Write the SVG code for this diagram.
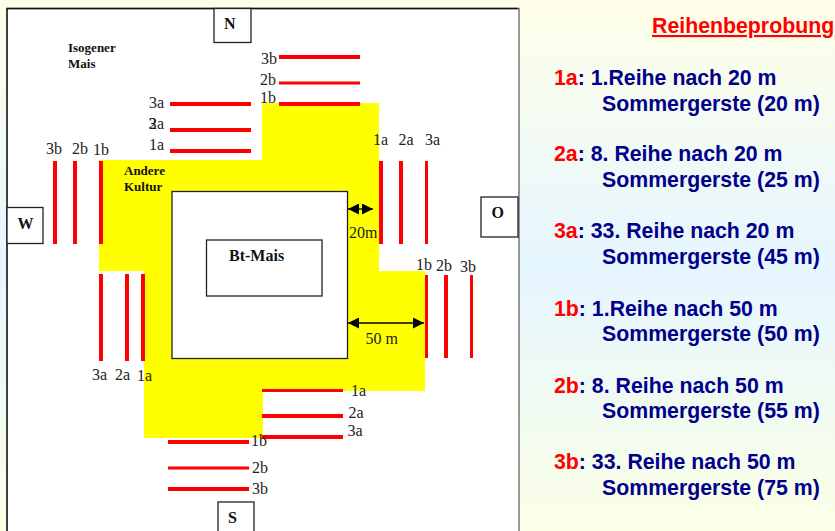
<svg xmlns="http://www.w3.org/2000/svg" width="835" height="531" viewBox="0 0 835 531">
<style>
.s{font-family:"Liberation Serif","Times New Roman",serif;font-size:16px;fill:#222}
.b{font-family:"Liberation Serif","Times New Roman",serif;font-weight:bold;fill:#111}
.a{font-family:"Liberation Sans",Arial,sans-serif;font-weight:bold;font-size:21.300px;fill:#00008b}
.r{fill:#f00}
.box{fill:#fff;stroke:#222;stroke-width:1.300}
.red{stroke:#f00;fill:none}
.dim{stroke:#000;stroke-width:1.300;fill:none;marker-start:url(#ah);marker-end:url(#ah)}
</style>
<defs>
<linearGradient id="bg" x1="0" y1="0" x2="0" y2="1">
<stop offset="0" stop-color="#ffffe8"/><stop offset="0.5" stop-color="#e6f6ff"/><stop offset="1" stop-color="#fbffe6"/>
</linearGradient>
<marker id="ah" viewBox="0 0 11 11" refX="11" refY="5.500" markerWidth="11" markerHeight="11" markerUnits="userSpaceOnUse" orient="auto-start-reverse"><path d="M0 0L11 5.500L0 11z" fill="#000"/></marker>
</defs>
<rect id="background" width="835" height="531" fill="url(#bg)"/>
<g id="map">
<path d="M7 534V8.500H519V534" fill="#fff" stroke="#777" stroke-width="1.500"/>
<path d="M7 534V8.500H518" fill="none" stroke="#111" stroke-width="1.300"/>
<path id="andere-kultur" d="M99 160H262V103H379V271H425V391H263V438H144V271H99Z" fill="#ff0"/>
</g>
<g id="isogener-mais"><text class="b" font-size="13" x="68" y="52">Isogener</text><text class="b" font-size="13" x="68" y="68">Mais</text></g>
<g id="andere-kultur-label"><text class="b" font-size="13" x="124" y="175">Andere</text><text class="b" font-size="13" x="124" y="191">Kultur</text></g>
<g id="field-outer"><rect x="172" y="191.500" width="175.500" height="167" class="box"/></g>
<g id="bt-mais"><rect x="206.500" y="240" width="115.500" height="56" class="box"/><text class="b" font-size="16" x="229" y="261">Bt-Mais</text></g>
<g id="north"><rect x="214" y="8.500" width="37" height="34" class="box"/><text class="b" font-size="16" x="224" y="29">N</text></g>
<g id="west"><rect x="7" y="207.500" width="36" height="36" class="box"/><text class="b" font-size="16" x="17.500" y="229">W</text></g>
<g id="east"><rect x="481" y="197" width="37" height="40" class="box"/><text class="b" font-size="16" x="491.500" y="218">O</text></g>
<g id="south"><rect x="218" y="502" width="36" height="32" class="box"/><text class="b" font-size="16" x="228" y="523">S</text></g>
<g id="connectors">
<path class="red" stroke-width="4" d="M170 104H251M170 130H251M170 151H251M279 57H360M279 104H360M168 442H249M168 489H249M262 437H343M262 416H343"/>
<path class="red" stroke-width="3" d="M279 83H360M168 468H249M262 390.500H343"/>
<path class="red" stroke-width="4" d="M55 161V244M75 161V244M101 161V244M101 274V361M127 274V361M143 274V361M381 161V244M401 161V244M446 275V358"/>
<path class="red" stroke-width="3" d="M426.500 161V244M426.500 275V358M471.500 275V358"/>
<path class="dim" d="M348 209H373"/>
<path class="dim" d="M348 323H424"/>
</g>
<g id="row-labels">
<text class="s" x="149" y="108">3a</text><text class="s" x="148.500" y="129">3</text><text class="s" x="149" y="129">2a</text><text class="s" x="149" y="150">1a</text>
<text class="s" x="261" y="64">3b</text><text class="s" x="260" y="85">2b</text><text class="s" x="260" y="103">1b</text>
<text class="s" x="46" y="154">3b</text><text class="s" x="72" y="154">2b</text><text class="s" x="93" y="155">1b</text>
<text class="s" x="373" y="145">1a</text><text class="s" x="398.500" y="145">2a</text><text class="s" x="425" y="145">3a</text>
<text class="s" x="416" y="270">1b</text><text class="s" x="436" y="271">2b</text><text class="s" x="460" y="272">3b</text>
<text class="s" x="92" y="380">3a</text><text class="s" x="115" y="380">2a</text><text class="s" x="137" y="381">1a</text>
<text class="s" x="351" y="396">1a</text><text class="s" x="348.500" y="418">2a</text><text class="s" x="347.500" y="436">3a</text>
<text class="s" x="251" y="446">1b</text><text class="s" x="252" y="473">2b</text><text class="s" x="252" y="494">3b</text>
<text class="s" x="349" y="238">20m</text><text class="s" x="365.500" y="344">50 m</text>
</g>
<g id="legend">
<text class="a" x="652" y="33" style="fill:#f00;text-decoration:underline">Reihenbeprobung</text>
<text class="a" x="554" y="85"><tspan class="r">1a</tspan>: 1.Reihe nach 20 m</text><text class="a" x="602" y="111">Sommergerste (20 m)</text>
<text class="a" x="554" y="161"><tspan class="r">2a</tspan>: 8. Reihe nach 20 m</text><text class="a" x="602" y="187">Sommergerste (25 m)</text>
<text class="a" x="554" y="238"><tspan class="r">3a</tspan>: 33. Reihe nach 20 m</text><text class="a" x="602" y="264">Sommergerste (45 m)</text>
<text class="a" x="554" y="316"><tspan class="r">1b</tspan>: 1.Reihe nach 50 m</text><text class="a" x="602" y="341">Sommergerste (50 m)</text>
<text class="a" x="554" y="393"><tspan class="r">2b</tspan>: 8. Reihe nach 50 m</text><text class="a" x="602" y="418">Sommergerste (55 m)</text>
<text class="a" x="554" y="469"><tspan class="r">3b</tspan>: 33. Reihe nach 50 m</text><text class="a" x="602" y="495">Sommergerste (75 m)</text>
</g>
</svg>
